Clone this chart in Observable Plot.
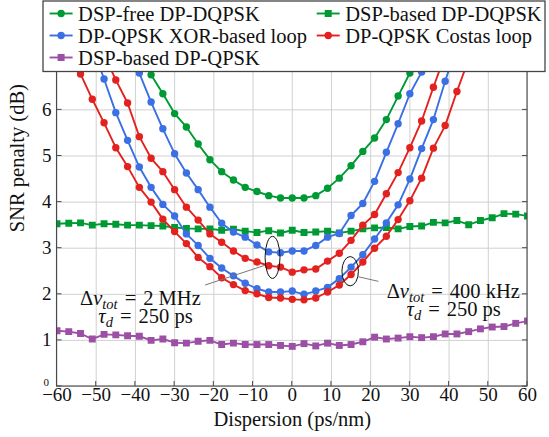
<!DOCTYPE html>
<html>
<head>
<meta charset="utf-8">
<script src="https://cdn.jsdelivr.net/npm/d3@7"></script>
<script src="https://cdn.jsdelivr.net/npm/@observablehq/plot@0.6"></script>
<style>
  html, body { margin: 0; padding: 0; background: #fff; }
  #chart { width: 549px; height: 437px; font-family: 'Liberation Serif'; }
</style>
</head>
<body>
<div id="chart"></div>
<script>
// ---------- data ----------
const dispersion = [-60,-57,-54,-51,-48,-45,-42,-39,-36,-33,-30,-27,-24,-21,-18,-15,-12,-9,-6,-3,0,3,6,9,12,15,18,21,24,27,30,33,36,39,42,45,48,51,54,57,60];
const xTicks = [-60,-50,-40,-30,-20,-10,0,10,20,30,40,50,60];
const yTicks = [0,1,2,3,4,5,6];

// DSP-free DP-DQPSK (green circles)
const dspFreeDQPSK = [null,null,null,null,null,null,null,7.2,6.76,6.35,5.92,5.63,5.26,4.92,4.66,4.48,4.32,4.23,4.14,4.09,4.09,4.09,4.14,4.30,4.52,4.79,5.10,5.39,5.79,6.30,6.80,7.3,null,null,null,null,null,null,null,null,null];
// DSP-based DP-DQPSK (green squares)
const dspBasedDQPSK = [3.53,3.54,3.55,3.50,3.53,3.52,3.50,3.50,3.49,3.48,3.45,3.43,3.42,3.42,3.39,3.41,3.37,3.34,3.38,3.33,3.39,3.34,3.35,3.37,3.33,3.37,3.42,3.44,3.45,3.42,3.47,3.48,3.56,3.55,3.60,3.51,3.60,3.66,3.75,3.74,3.70];
// DP-QPSK XOR-based loop, dnu = 2 MHz (blue, upper)
const xorLoop2MHz = [null,null,null,null,null,null,7.4,6.8,6.17,5.59,5.05,4.63,4.27,3.89,3.54,3.35,3.24,3.07,2.92,2.90,2.94,2.94,3.06,3.24,3.32,3.71,3.97,4.45,5.08,5.70,6.35,6.82,7.4,null,null,null,null,null,null,null,null];
// DP-QPSK XOR-based loop, dnu = 400 kHz (blue, lower)
const xorLoop400k = [null,null,null,7.4,6.67,5.94,5.34,4.76,4.32,3.95,3.70,3.31,3.06,2.78,2.57,2.40,2.24,2.12,2.05,2.05,2.07,2.00,2.07,2.15,2.34,2.59,2.86,3.20,3.55,3.94,4.50,5.16,5.79,6.62,7.4,null,null,null,null,null,null];
// DP-QPSK Costas loop, dnu = 2 MHz (red, upper)
const costas2MHz = [null,null,null,null,7.2,6.65,6.15,5.42,4.95,4.66,4.27,3.89,3.61,3.31,3.13,2.94,2.78,2.70,2.62,2.59,2.48,2.53,2.55,2.72,2.89,3.17,3.50,3.73,4.18,4.64,5.18,5.76,6.49,7.2,null,null,null,null,null,null,null];
// DP-QPSK Costas loop, dnu = 400 kHz (red, lower)
const costas400k = [null,7.4,6.78,6.23,5.72,5.18,4.77,4.32,4.00,3.63,3.36,3.10,2.80,2.60,2.36,2.21,2.08,2.01,1.93,1.92,1.89,1.88,1.92,2.05,2.20,2.43,2.70,3.00,3.26,3.62,4.03,4.52,5.17,5.66,6.40,7.1,null,null,null,null,null];
// DSP-based DP-QPSK (purple squares)
const dspBasedQPSK = [1.21,1.19,1.15,1.03,1.13,1.12,1.10,1.09,1.00,1.03,0.95,0.94,0.98,1.00,0.91,0.94,0.91,0.91,0.91,0.89,0.87,0.93,0.88,0.94,0.89,0.91,0.97,1.07,1.03,1.05,1.08,1.06,1.08,1.14,1.14,1.19,1.25,1.29,1.30,1.37,1.42];

const legendLabels = ["DSP-free DP-DQPSK","DSP-based DP-DQPSK","DP-QPSK XOR-based loop","DP-QPSK Costas loop","DSP-based DP-QPSK"];
const xLabel = "Dispersion (ps/nm)";
const yLabel = "SNR penalty (dB)";

// annotations: ellipse centres/radii in data units, leader lines, label anchors
const ellipses = [
  {cx: -4.9, cy: 2.79, rx: 1.9, ry: 0.456},
  {cx: 14.9, cy: 2.49, rx: 2.1, ry: 0.318}
];
const leaders = [
  {x1: -22.1, y1: 2.19, x2: -6.8, y2: 2.62},
  {x1: 17.0, y1: 2.37, x2: 22.1, y2: 2.27}
];
const annoLines = [
  {x: -38.6, y: 1.75, parts: [["Δ"],["ν","i"],["tot","s"],["=","", 7],["2 MHz","", 7]]},
  {x: -37.3, y: 1.36, parts: [["τ","i"],["d","s"],["=","", 7],["250 ps","", 7]]},
  {x: 41.2, y: 1.90, parts: [["Δ"],["ν","i"],["tot","s"],["=","", 7],["400 kHz","", 7]]},
  {x: 41.3, y: 1.51, parts: [["τ","i"],["d","s"],["=","", 7],["250 ps","", 7]]}
];

// ---------- styling ----------
const FONT = "Liberation Serif";
const GREEN = "#009a34", BLUE = "#3b6fe4", RED = "#e3211e", PURPLE = "#9b4fa5";
const series = [
  {values: dspFreeDQPSK, color: GREEN, symbol: "circle"},
  {values: dspBasedDQPSK, color: GREEN, symbol: "square"},
  {values: xorLoop2MHz, color: BLUE, symbol: "circle"},
  {values: xorLoop400k, color: BLUE, symbol: "circle"},
  {values: costas2MHz, color: RED, symbol: "circle"},
  {values: costas400k, color: RED, symbol: "circle"},
  {values: dspBasedQPSK, color: PURPLE, symbol: "square"}
];
const legendItems = [
  {label: legendLabels[0], color: GREEN, symbol: "circle", col: 0, row: 0},
  {label: legendLabels[1], color: GREEN, symbol: "square", col: 1, row: 0},
  {label: legendLabels[2], color: BLUE, symbol: "circle", col: 0, row: 1},
  {label: legendLabels[3], color: RED, symbol: "circle", col: 1, row: 1},
  {label: legendLabels[4], color: PURPLE, symbol: "square", col: 0, row: 2}
];

const minus = (v) => v < 0 ? "\u2212" + Math.abs(v) : String(v);

const seriesMarks = series.flatMap(s => {
  const data = dispersion.map((d, i) => ({x: d, y: s.values[i]}));
  return [
    Plot.line(data, {x: "x", y: "y", stroke: s.color, strokeWidth: 1.9, clip: true}),
    Plot.dot(data.filter(d => d.y != null), {x: "x", y: "y", fill: s.color, stroke: "none",
      r: s.symbol === "square" ? 3.9 : 3.7, symbol: s.symbol, clip: true})
  ];
});

// frame + inward ticks
function frameMark(index, scales, values, dims) {
  const sx = scales.x, sy = scales.y;
  const x0 = dims.marginLeft, x1 = dims.width - dims.marginRight;
  const y0 = dims.marginTop, y1 = dims.height - dims.marginBottom;
  const g = d3.create("svg:g").attr("fill", "none").attr("stroke", "#4a4a4a");
  g.append("rect").attr("x", x0).attr("y", y0).attr("width", x1 - x0).attr("height", y1 - y0).attr("stroke-width", 1.1);
  for (const t of xTicks) {
    const px = sx(t);
    g.append("line").attr("x1", px).attr("x2", px).attr("y1", y1).attr("y2", y1 - 5).attr("stroke-width", 1);
  }
  for (const t of yTicks) {
    const py = sy(t);
    g.append("line").attr("x1", x0).attr("x2", x0 + 5).attr("y1", py).attr("y2", py).attr("stroke-width", 1);
    g.append("line").attr("x1", x1).attr("x2", x1 - 5).attr("y1", py).attr("y2", py).attr("stroke-width", 1);
  }
  return g.node();
}

// ellipses, leader lines, math-style labels
function annotationMark(index, scales) {
  const sx = scales.x, sy = scales.y;
  const g = d3.create("svg:g");
  for (const e of ellipses) {
    g.append("ellipse").attr("cx", sx(e.cx)).attr("cy", sy(e.cy))
      .attr("rx", Math.abs(sx(e.cx + e.rx) - sx(e.cx))).attr("ry", Math.abs(sy(e.cy + e.ry) - sy(e.cy)))
      .attr("fill", "none").attr("stroke", "#111").attr("stroke-width", 1);
  }
  for (const l of leaders) {
    g.append("line").attr("x1", sx(l.x1)).attr("y1", sy(l.y1)).attr("x2", sx(l.x2)).attr("y2", sy(l.y2))
      .attr("stroke", "#777").attr("stroke-width", 1);
  }
  for (const a of annoLines) {
    const t = g.append("text").attr("x", sx(a.x)).attr("y", sy(a.y)).attr("text-anchor", "middle")
      .attr("font-size", 20.5).attr("font-family", FONT).attr("fill", "#111");
    let shifted = false;
    for (const [txt, kind, dx] of a.parts) {
      const sp = t.append("tspan").text(txt);
      if (kind === "i" || kind === "s") sp.attr("font-style", "italic");
      if (kind === "s") { sp.attr("font-size", 14.5).attr("dy", 4); shifted = true; }
      else if (shifted) { sp.attr("dy", -4); shifted = false; }
      if (dx) sp.attr("dx", dx);
    }
  }
  return g.node();
}

// legend box drawn on top of the plot
function legendMark() {
  const g = d3.create("svg:g");
  g.append("rect").attr("x", 43).attr("y", 1).attr("width", 502).attr("height", 70.5)
    .attr("fill", "#fff").attr("stroke", "#444").attr("stroke-width", 1.3);
  const colX = [49.6, 316.7], rowY = [13.5, 35.5, 57.5];
  for (const it of legendItems) {
    const lx = colX[it.col], ly = rowY[it.row];
    g.append("line").attr("x1", lx).attr("x2", lx + 23).attr("y1", ly).attr("y2", ly)
      .attr("stroke", it.color).attr("stroke-width", 1.9);
    if (it.symbol === "circle") {
      g.append("circle").attr("cx", lx + 11.5).attr("cy", ly).attr("r", 3.7).attr("fill", it.color);
    } else {
      g.append("rect").attr("x", lx + 11.5 - 3.5).attr("y", ly - 3.5).attr("width", 7).attr("height", 7).attr("fill", it.color);
    }
    g.append("text").attr("x", lx + 28.5).attr("y", ly + 7).attr("text-anchor", "start")
      .attr("font-size", 20.5).attr("font-family", FONT).attr("fill", "#111").text(it.label);
  }
  return g.node();
}

const chart = Plot.plot({
  width: 549,
  height: 437,
  marginLeft: 56.5,
  marginRight: 22,
  marginTop: 63.3,
  marginBottom: 51,
  x: {domain: [-60, 60], axis: null},
  y: {domain: [0, 7], axis: null},
  style: "font-family: 'Liberation Serif'; font-size: 18px; background: #fff; color: #111;",
  marks: [
    Plot.ruleX(xTicks, {x: d => d, stroke: "#d0d0d0", strokeWidth: 1}),
    Plot.ruleY(yTicks.concat([7]), {y: d => d, stroke: "#d0d0d0", strokeWidth: 1}),
    ...seriesMarks,
    annotationMark,
    frameMark,
    Plot.text(xTicks, {x: d => d, frameAnchor: "bottom", dy: 14, text: d => minus(d), fontSize: 19, fontFamily: FONT, fill: "#111"}),
    Plot.text(yTicks.filter(d => d > 0), {y: d => d, frameAnchor: "left", dx: -5.5, textAnchor: "end", text: d => String(d), fontSize: 19, fontFamily: FONT, fill: "#111"}),
    Plot.text([0], {y: d => d, frameAnchor: "left", dx: -8, dy: -4, textAnchor: "end", text: d => String(d), fontSize: 11, fontFamily: FONT, fill: "#111"}),
    Plot.text([xLabel], {frameAnchor: "bottom", dy: 39, text: d => d, fontSize: 20.5, fontFamily: FONT, fill: "#111"}),
    Plot.text([yLabel], {frameAnchor: "left", dx: -40, dy: 7, rotate: -90, text: d => d, fontSize: 20.5, fontFamily: FONT, fill: "#111"}),
    legendMark
  ]
});

chart.setAttribute("font-family", FONT);
chart.querySelectorAll("text, tspan").forEach(el => {
  el.setAttribute("font-family", FONT);
  el.style.fontFamily = "'Liberation Serif'";
});
document.getElementById("chart").appendChild(chart);
</script>
</body>
</html>
